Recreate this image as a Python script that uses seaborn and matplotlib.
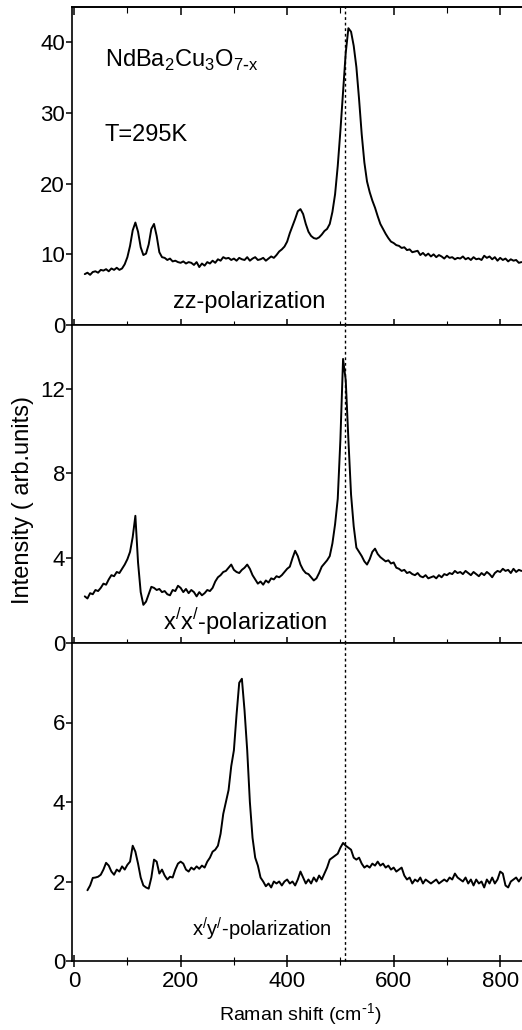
import matplotlib
matplotlib.use("Agg")
import numpy as np
import pandas as pd
import matplotlib.pyplot as plt
import seaborn as sns
from matplotlib.ticker import MultipleLocator

# Raman shift grid (cm-1) in 5 cm-1 steps
shift = [
    20, 25, 30, 35, 40, 45, 50, 55, 60, 65, 70, 75, 80, 85, 90, 95, 100, 105, 110, 115,
    120, 125, 130, 135, 140, 145, 150, 155, 160, 165, 170, 175, 180, 185, 190, 195, 200, 205, 210, 215,
    220, 225, 230, 235, 240, 245, 250, 255, 260, 265, 270, 275, 280, 285, 290, 295, 300, 305, 310, 315,
    320, 325, 330, 335, 340, 345, 350, 355, 360, 365, 370, 375, 380, 385, 390, 395, 400, 405, 410, 415,
    420, 425, 430, 435, 440, 445, 450, 455, 460, 465, 470, 475, 480, 485, 490, 495, 500, 505, 510, 515,
    520, 525, 530, 535, 540, 545, 550, 555, 560, 565, 570, 575, 580, 585, 590, 595, 600, 605, 610, 615,
    620, 625, 630, 635, 640, 645, 650, 655, 660, 665, 670, 675, 680, 685, 690, 695, 700, 705, 710, 715,
    720, 725, 730, 735, 740, 745, 750, 755, 760, 765, 770, 775, 780, 785, 790, 795, 800, 805, 810, 815,
    820, 825, 830, 835, 840,
]

# zz-polarization
zz = [
    7.2, 7.4, 7.1, 7.5, 7.6, 7.4, 7.8, 7.7, 7.9, 7.6, 8.0, 7.8, 8.1, 7.8, 8.0, 8.6, 9.6, 11.2, 13.4, 14.5,
    13.2, 11.0, 9.9, 10.1, 11.4, 13.6, 14.3, 12.6, 10.3, 9.6, 9.5, 9.2, 9.4, 9.0, 9.1, 8.9, 8.8, 9.0, 8.7, 8.9,
    8.8, 8.5, 8.9, 8.2, 8.7, 8.4, 8.9, 8.7, 9.1, 8.8, 9.3, 9.1, 9.6, 9.4, 9.5, 9.2, 9.4, 9.1, 9.5, 9.3,
    9.2, 9.6, 9.1, 9.4, 9.6, 9.2, 9.3, 9.5, 9.1, 9.4, 9.7, 9.5, 9.9, 10.4, 10.7, 11.1, 11.8, 13.0, 14.0, 15.0,
    16.1, 16.4, 15.7, 14.3, 13.2, 12.6, 12.3, 12.2, 12.4, 12.8, 13.3, 13.6, 14.3, 16.0, 18.5, 22.5, 27.5, 33.0, 38.5, 42.0,
    41.5, 39.5, 36.5, 32.0, 27.0, 23.0, 20.3, 18.8, 17.6, 16.6, 15.4, 14.3, 13.6, 12.9, 12.3, 11.8, 11.6, 11.3, 11.2, 10.9,
    11.0, 10.6, 10.7, 10.3, 10.4, 10.5, 9.9, 10.2, 9.8, 10.1, 9.7, 10.0, 9.6, 9.9, 9.7, 9.4, 9.8, 9.5, 9.6, 9.3,
    9.5, 9.4, 9.7, 9.3, 9.5, 9.2, 9.6, 9.3, 9.4, 9.2, 9.8, 9.5, 9.7, 9.3, 9.6, 9.1, 9.5, 9.2, 9.4, 9.0,
    9.3, 9.1, 9.2, 8.8, 8.9,
]

# x'x'-polarization
xx = [
    2.2, 2.1, 2.35, 2.3, 2.5, 2.45, 2.6, 2.8, 2.75, 3.0, 3.2, 3.15, 3.35, 3.3, 3.5, 3.7, 3.95, 4.3, 5.0, 6.0,
    3.8, 2.4, 1.8, 1.95, 2.3, 2.65, 2.6, 2.5, 2.55, 2.4, 2.45, 2.3, 2.25, 2.5, 2.45, 2.7, 2.6, 2.4, 2.55, 2.35,
    2.5, 2.4, 2.2, 2.4, 2.25, 2.35, 2.5, 2.45, 2.6, 2.9, 3.1, 3.2, 3.35, 3.4, 3.55, 3.7, 3.45, 3.35, 3.3, 3.45,
    3.55, 3.7, 3.5, 3.2, 3.0, 2.8, 2.9, 2.75, 2.95, 2.85, 3.05, 3.0, 3.15, 3.1, 3.2, 3.35, 3.5, 3.6, 4.0, 4.35,
    4.1, 3.7, 3.45, 3.3, 3.25, 3.1, 2.95, 3.05, 3.3, 3.6, 3.75, 3.9, 4.1, 4.7, 5.6, 6.8, 9.6, 13.4, 12.4, 9.6,
    7.0, 5.5, 4.5, 4.3, 4.1, 3.85, 3.7, 3.95, 4.3, 4.45, 4.2, 4.05, 3.95, 3.85, 3.9, 3.75, 3.8, 3.55, 3.5, 3.4,
    3.45, 3.3, 3.35, 3.25, 3.2, 3.3, 3.15, 3.1, 3.2, 3.05, 3.1, 3.15, 3.05, 3.2, 3.1, 3.25, 3.2, 3.3, 3.25, 3.4,
    3.3, 3.35, 3.25, 3.4, 3.3, 3.2, 3.35, 3.25, 3.15, 3.3, 3.2, 3.35, 3.25, 3.1, 3.3, 3.4, 3.35, 3.5, 3.4, 3.45,
    3.3, 3.5, 3.35, 3.45, 3.4,
]

# x'y'-polarization (starts at 25 cm-1)
xy = [
    1.78, 1.9, 2.09, 2.1, 2.12, 2.17, 2.3, 2.47, 2.4, 2.25, 2.17, 2.3, 2.25, 2.38, 2.3, 2.42, 2.5, 2.9, 2.75,
    2.45, 2.1, 1.9, 1.85, 1.82, 2.1, 2.55, 2.5, 2.2, 2.3, 2.15, 2.05, 2.12, 2.1, 2.3, 2.45, 2.5, 2.45, 2.3, 2.25,
    2.35, 2.3, 2.38, 2.32, 2.4, 2.35, 2.5, 2.6, 2.75, 2.8, 2.9, 3.2, 3.7, 4.0, 4.3, 4.9, 5.3, 6.2, 7.0, 7.1,
    6.3, 5.3, 4.0, 3.1, 2.6, 2.4, 2.1, 2.0, 1.88, 1.95, 1.85, 2.0, 1.95, 2.0, 1.9, 2.0, 2.05, 1.95, 2.0, 1.9,
    2.05, 2.25, 2.1, 1.95, 2.05, 1.95, 2.1, 2.0, 2.15, 2.05, 2.2, 2.35, 2.55, 2.6, 2.65, 2.7, 2.85, 2.97, 2.9, 2.85,
    2.8, 2.6, 2.55, 2.6, 2.45, 2.35, 2.4, 2.35, 2.45, 2.4, 2.5, 2.4, 2.45, 2.35, 2.4, 2.3, 2.35, 2.25, 2.3, 2.35,
    2.15, 2.05, 2.1, 1.95, 2.05, 2.0, 2.1, 1.95, 2.05, 2.0, 1.95, 2.0, 2.05, 1.95, 2.0, 2.05, 2.0, 2.1, 2.05, 2.2,
    2.1, 2.05, 2.0, 2.1, 1.95, 2.05, 1.9, 2.05, 1.95, 2.0, 1.85, 2.05, 1.95, 2.1, 1.95, 2.05, 2.25, 2.2, 1.9, 1.85,
    2.0, 2.05, 2.1, 2.0, 2.1,
]

marker_shift = 508  # dotted reference line
panel_labels = ["zz-polarization",
                "x$^\\mathregular{/}$x$^\\mathregular{/}$-polarization",
                "x$^\\mathregular{/}$y$^\\mathregular{/}$-polarization"]
panel_ylims = [45, 15, 8]
panel_yticks = [[0, 10, 20, 30, 40], [0, 4, 8, 12], [0, 2, 4, 6]]

sns.set_style("ticks", {'axes.edgecolor': 'black', 'text.color': 'black',
                        'xtick.color': 'black', 'ytick.color': 'black',
                        'axes.labelcolor': 'black'})
plt.rcParams['font.family'] = ['Liberation Sans', 'DejaVu Sans']
plt.rcParams['axes.linewidth'] = 1.2

spectra = [
    pd.DataFrame({'shift': shift, 'intensity': zz}),
    pd.DataFrame({'shift': shift, 'intensity': xx}),
    pd.DataFrame({'shift': shift[1:], 'intensity': xy}),
]

fig, axes = plt.subplots(3, 1, sharex=True, figsize=(5.22, 10.30), dpi=100)
fig.subplots_adjust(left=72/522, right=1.0, top=1-7/1030, bottom=1-961/1030, hspace=0)

for ax, df, ymax, yt in zip(axes, spectra, panel_ylims, panel_yticks):
    sns.lineplot(data=df, x='shift', y='intensity', ax=ax, color='black', lw=1.4)
    ax.axvline(marker_shift, color='black', lw=1.0, ls=(0, (2, 2)), clip_on=False)
    ax.set_ylim(0, ymax)
    ax.set_yticks(yt)
    ax.set_xlim(-4, 841)
    ax.xaxis.set_major_locator(MultipleLocator(200))
    ax.xaxis.set_minor_locator(MultipleLocator(100))
    ax.tick_params(axis='y', direction='out', length=4, width=1.1, pad=1, labelsize=16)
    ax.tick_params(axis='x', which='major', direction='inout', length=9, width=1.1, labelsize=16, pad=3)
    ax.tick_params(axis='x', which='minor', direction='inout', length=6, width=0.8)
    ax.set_xlabel('')
    ax.set_ylabel('')
    ax.spines['right'].set_visible(False)

# ticks on the upper frame of the top panel point inward
top = axes[0].secondary_xaxis('top')
top.xaxis.set_major_locator(MultipleLocator(200))
top.xaxis.set_minor_locator(MultipleLocator(100))
top.tick_params(which='major', direction='in', length=6, width=1.1, labeltop=False)
top.tick_params(which='minor', direction='in', length=4, width=0.8)

ax0, ax1, ax2 = axes
ax0.text(0.073, 0.811, "NdBa$_\\mathregular{2}$Cu$_\\mathregular{3}$O$_\\mathregular{7\\text{-}x}$",
         transform=ax0.transAxes, fontsize=17, va='baseline')
ax0.text(0.073, 0.580, "T=295K", transform=ax0.transAxes, fontsize=17, va='baseline')
ax0.text(0.224, 0.054, panel_labels[0], transform=ax0.transAxes, fontsize=17, va='baseline')
ax1.text(0.202, 0.042, panel_labels[1], transform=ax1.transAxes, fontsize=17, va='baseline')
ax2.text(0.267, 0.077, panel_labels[2], transform=ax2.transAxes, fontsize=14.5, va='baseline')

fig.text(23/522, 1-500/1030, "Intensity ( arb.units)", rotation=90,
         ha='center', va='center', fontsize=17)
fig.text(300/522, 1-1015/1030, "Raman shift (cm$^\\mathregular{\\text{-}1}$)",
         ha='center', va='center', fontsize=14)

fig.savefig('out.png', dpi=100)
